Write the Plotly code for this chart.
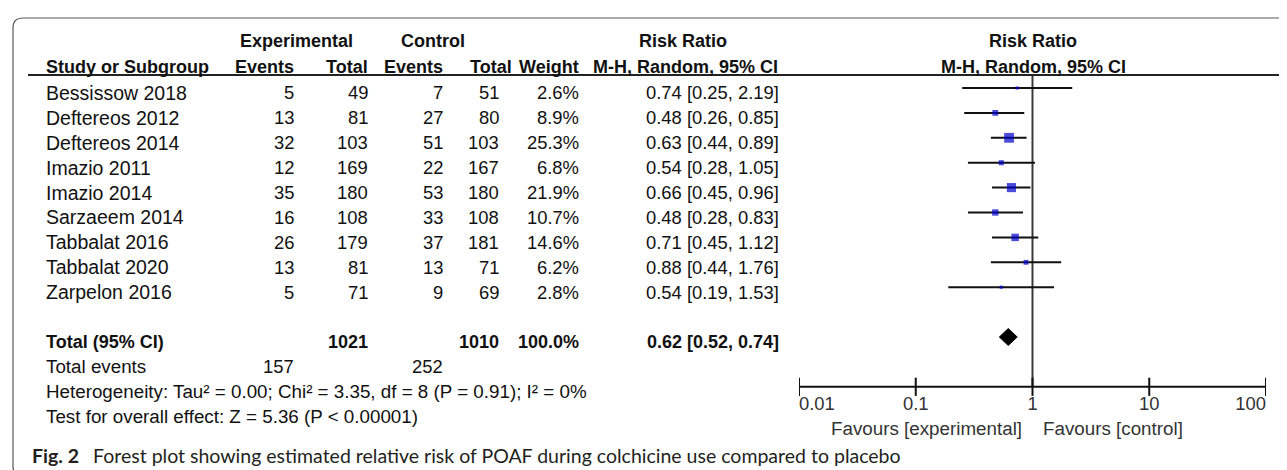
import numpy as np
import plotly.graph_objects as go

# ---------------- data ----------------
studies = ["Bessissow 2018", "Deftereos 2012", "Deftereos 2014", "Imazio 2011",
           "Imazio 2014", "Sarzaeem 2014", "Tabbalat 2016", "Tabbalat 2020", "Zarpelon 2016"]
exp_events = [5, 13, 32, 12, 35, 16, 26, 13, 5]
exp_total = [49, 81, 103, 169, 180, 108, 179, 81, 71]
ctl_events = [7, 27, 51, 22, 53, 33, 37, 13, 9]
ctl_total = [51, 80, 103, 167, 180, 108, 181, 71, 69]
weights = [2.6, 8.9, 25.3, 6.8, 21.9, 10.7, 14.6, 6.2, 2.8]
rr = [0.74, 0.48, 0.63, 0.54, 0.66, 0.48, 0.71, 0.88, 0.54]
ci_low = [0.25, 0.26, 0.44, 0.28, 0.45, 0.28, 0.45, 0.44, 0.19]
ci_high = [2.19, 0.85, 0.89, 1.05, 0.96, 0.83, 1.12, 1.76, 1.53]

total_exp = 1021
total_ctl = 1010
total_weight = 100.0
pooled_rr = 0.62
pooled_low = 0.52
pooled_high = 0.74
events_exp_sum = 157
events_ctl_sum = 252
heterogeneity_text = "Heterogeneity: Tau\u00b2 = 0.00; Chi\u00b2 = 3.35, df = 8 (P = 0.91); I\u00b2 = 0%"
overall_text = "Test for overall effect: Z = 5.36 (P < 0.00001)"

axis_ticks = [0.01, 0.1, 1, 10, 100]
axis_tick_labels = ["0.01", "0.1", "1", "10", "100"]

caption_bold = "Fig. 2"
caption_text = "Forest plot showing estimated relative risk of POAF during colchicine use compared to placebo"

# ---------------- layout helpers ----------------
W, H = 1287, 470
ROW0_PX, ROW_PX = 80.0, 24.9          # pixel of row 0, pixels per row
y_top = (0 - ROW0_PX) / ROW_PX
y_bot = (H - ROW0_PX) / ROW_PX
TXT = 0.2                              # text offset within a row
FONT = "Liberation Sans, Arial, sans-serif"
FS_B = 18        # bold headers
FS_NAME = 19.5   # study names
FS_TXT = 18.8    # text lines
FS_NUM = 18.4    # numbers
INK = "#111111"
CAP_FONT = "Lato, Noto Sans, sans-serif"

def r_of(px):
    return (px - ROW0_PX) / ROW_PX

annotations = []

def txt(text, xpx, row, anchor="left", bold=False, size=FS_NUM, family=FONT, color=INK):
    annotations.append(dict(
        text=f"<b>{text}</b>" if bold else text,
        x=xpx / W, xref="paper", y=row, yref="y",
        xanchor=anchor, yanchor="middle", showarrow=False,
        font=dict(family=family, size=size, color=color)))

# column right edges (px)
COL_NAME = 36
COL_EE, COL_ET, COL_CE, COL_CT, COL_W, COL_RR = 288, 362, 437, 493, 573, 773

# headers
hr1, hr2 = r_of(33), r_of(59)
txt("Experimental", 288, hr1, "center", True, FS_B)
txt("Control", 425, hr1, "center", True, FS_B)
txt("Risk Ratio", 675, hr1, "center", True, FS_B)
txt("Study or Subgroup", COL_NAME, hr2, "left", True, FS_B)
txt("Events", COL_EE, hr2, "right", True, FS_B)
txt("Total", COL_ET, hr2, "right", True, FS_B)
txt("Events", COL_CE, hr2, "right", True, FS_B)
txt("Total", 506, hr2, "right", True, FS_B)
txt("Weight", COL_W, hr2, "right", True, FS_B)
txt("M-H, Random, 95% CI", 677, hr2, "center", True, FS_B)
txt("Risk Ratio", 1025, hr1, "center", True, FS_B)
txt("M-H, Random, 95% CI", 1025, hr2, "center", True, FS_B)

# study rows
for i, s in enumerate(studies):
    y = i + TXT
    txt(s, COL_NAME, y, size=FS_NAME)
    txt(str(exp_events[i]), COL_EE, y, "right")
    txt(str(exp_total[i]), COL_ET, y, "right")
    txt(str(ctl_events[i]), COL_CE, y, "right")
    txt(str(ctl_total[i]), COL_CT, y, "right")
    txt(f"{weights[i]:.1f}%", COL_W, y, "right")
    txt(f"{rr[i]:.2f} [{ci_low[i]:.2f}, {ci_high[i]:.2f}]", COL_RR, y, "right")

n = len(studies)
tot_row = n + 1
txt("Total (95% CI)", COL_NAME, tot_row + TXT, "left", True, FS_B)
txt(str(total_exp), COL_ET, tot_row + TXT, "right", True, FS_B)
txt(str(total_ctl), COL_CT, tot_row + TXT, "right", True, FS_B)
txt(f"{total_weight:.1f}%", COL_W, tot_row + TXT, "right", True, FS_B)
txt(f"{pooled_rr:.2f} [{pooled_low:.2f}, {pooled_high:.2f}]", COL_RR, tot_row + TXT, "right", True, FS_B)
txt("Total events", COL_NAME, tot_row + 1 + TXT, size=FS_TXT)
txt(str(events_exp_sum), COL_EE, tot_row + 1 + TXT, "right")
txt(str(events_ctl_sum), COL_CE, tot_row + 1 + TXT, "right")
txt(heterogeneity_text, COL_NAME, tot_row + 2 + TXT, size=FS_TXT)
txt(overall_text, COL_NAME, tot_row + 3 + TXT, size=FS_TXT)

# favours labels
axis_row = tot_row + 2
for label, anchor, shift in [("Favours [experimental]", "right", -9), ("Favours [control]", "left", 8)]:
    annotations.append(dict(text=label, x=0, xref="x2", y=r_of(420), yref="y",
                            xanchor=anchor, xshift=shift, yanchor="middle", showarrow=False,
                            font=dict(family=FONT, size=FS_TXT, color="#333333")))

# caption
cap_row = r_of(447)
txt(caption_bold, 22, cap_row, "left", True, 19.5, CAP_FONT, "#231f20")
txt(caption_text, 83, cap_row, "left", False, 19.5, CAP_FONT, "#231f20")

# ---------------- traces ----------------
fig = go.Figure()
xa = dict(xaxis="x2", yaxis="y")

# line of no effect
fig.add_trace(go.Scatter(x=[1, 1], y=[r_of(67), axis_row], mode="lines",
                         line=dict(color="#3a3a3a", width=2), **xa))
# CI lines
cx, cy = [], []
for i in range(n):
    cx += [ci_low[i], ci_high[i], None]
    cy += [i, i, None]
fig.add_trace(go.Scatter(x=cx, y=cy, mode="lines", line=dict(color="#111111", width=2), **xa))
# squares (side proportional to sqrt of weight)
fig.add_trace(go.Scatter(x=rr, y=list(range(n)), mode="markers",
                         marker=dict(symbol="square", color="#0000cc",
                                     size=[1.95 * np.sqrt(w) for w in weights], line=dict(width=0)),
                         **xa))
# diamond
dh = 0.34
fig.add_trace(go.Scatter(x=[pooled_low, pooled_rr, pooled_high, pooled_rr, pooled_low],
                         y=[tot_row, tot_row - dh, tot_row, tot_row + dh, tot_row],
                         mode="lines", fill="toself", fillcolor="#000000",
                         line=dict(color="#000000", width=1), **xa))
# axis line + ticks
fig.add_trace(go.Scatter(x=[axis_ticks[0], axis_ticks[-1]], y=[axis_row, axis_row], mode="lines",
                         line=dict(color="#111111", width=2), **xa))
fig.add_trace(go.Scatter(x=axis_ticks, y=[axis_row] * len(axis_ticks), mode="markers",
                         marker=dict(symbol="line-ns", size=13, line=dict(color="#111111", width=2)),
                         **xa))
positions = ["middle right"] + ["middle center"] * (len(axis_ticks) - 2) + ["middle left"]
fig.add_trace(go.Scatter(x=axis_ticks, y=[r_of(397)] * len(axis_ticks), mode="text",
                         text=axis_tick_labels, textposition=positions,
                         textfont=dict(family=FONT, size=FS_NUM, color="#333333"), **xa))

# ---------------- shapes ----------------
def px_x(p): return p / W
def px_y(p): return 1 - p / H

L, R, T, B, rad = 5, 1283, 10, 469, 10
path = (f"M {px_x(L + rad)},{px_y(T)} L {px_x(R - rad)},{px_y(T)} "
        f"Q {px_x(R)},{px_y(T)} {px_x(R)},{px_y(T + rad)} "
        f"L {px_x(R)},{px_y(B - rad)} Q {px_x(R)},{px_y(B)} {px_x(R - rad)},{px_y(B)} "
        f"L {px_x(L + rad)},{px_y(B)} Q {px_x(L)},{px_y(B)} {px_x(L)},{px_y(B - rad)} "
        f"L {px_x(L)},{px_y(T + rad)} Q {px_x(L)},{px_y(T)} {px_x(L + rad)},{px_y(T)} Z")
shapes = [
    dict(type="path", xref="paper", yref="paper", path=path,
         line=dict(color="#5a5a5a", width=1.2)),
    dict(type="line", xref="paper", yref="y", x0=px_x(20), x1=px_x(1275),
         y0=r_of(67), y1=r_of(67), line=dict(color="#222222", width=1.8)),
]

fig.update_layout(
    width=W, height=H, margin=dict(l=0, r=0, t=0, b=0, pad=0),
    paper_bgcolor="white", plot_bgcolor="white", showlegend=False,
    xaxis=dict(domain=[0, 1], range=[0, 1], visible=False, fixedrange=True),
    xaxis2=dict(domain=[791 / W, 1258 / W], type="log", range=[-2, 2], anchor="y",
                visible=False, fixedrange=True),
    yaxis=dict(domain=[0, 1], range=[y_bot, y_top], visible=False, fixedrange=True),
    annotations=annotations, shapes=shapes, hovermode=False,
)

fig.write_html("out.html")
